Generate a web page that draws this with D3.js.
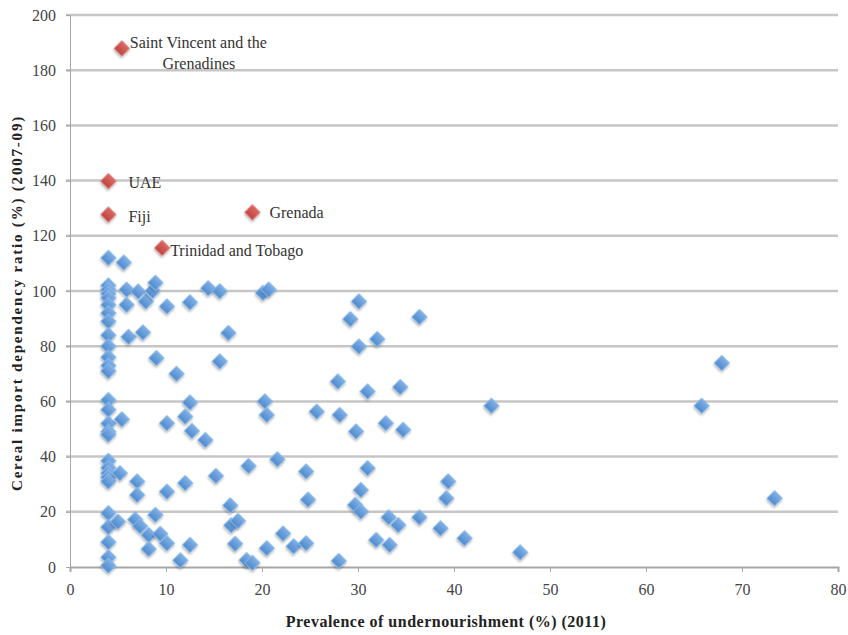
<!DOCTYPE html>
<html>
<head>
<meta charset="utf-8">
<script src="https://cdn.jsdelivr.net/npm/d3@7"></script>
<style>
	body { margin: 0; background: #fff; }
	svg { display: block; }
	text { font-family: "Liberation Serif", "Times New Roman", "DejaVu Serif", serif; }
</style>
</head>
<body>
<svg id="chart" width="848" height="635"></svg>
<script>

// prevalence of undernourishment (%) vs cereal import dependency ratio (%)
var blueX = [4,4,4,4,4,4,4,4,4,4,4,4,4,4,4,4,4,4,4,4,4,4,4,4,4,4,4,4,
	5.6,5.9,5.9,6.1,7.6,7.1,7.9,8.6,8.9,10.1,12.5,14.4,15.6,20.1,20.7,16.5,9.0,11.1,15.6,27.9,
	12.5,10.1,5.4,12.0,12.7,14.1,20.3,20.5,25.7,28.1,29.8,32.9,34.7,30.1,29.2,36.4,30.1,32.0,
	31.0,34.4,43.9,65.8,67.9,5.2,7.0,7.0,10.1,12.0,15.2,18.6,21.6,24.6,24.8,16.7,31.0,30.3,
	29.7,30.3,33.2,34.2,36.4,39.4,39.2,38.6,41.1,46.9,73.4,31.9,33.3,28.0,5.0,6.8,7.3,8.2,
	8.9,9.4,10.1,8.2,12.5,11.5,16.8,17.5,17.2,18.4,19.0,20.5,22.2,23.3,24.6]
var blueY = [112,102,100.5,99,97.5,95,92,89,84,80,76,73,71,60.5,57,52,49,48,38.5,36,34,32.5,31,19.5,14.5,9,3.5,0.5,
	110.3,100.5,95,83.4,85,99.8,96.2,100,103,94.4,95.9,101,99.9,99.3,100.5,84.8,75.7,70,74.5,67.2,
	59.6,52.1,53.5,54.5,49.3,46,60,55.1,56.3,55.1,49.1,52.1,49.7,96.2,89.8,90.6,79.9,82.6,
	63.6,65.2,58.4,58.4,73.9,34,31,26.1,27.3,30.4,33,36.6,39,34.6,24.4,22.3,35.8,27.9,
	22.5,20.1,18,15.2,18,31,24.9,14,10.4,5.3,24.9,9.8,8,2.2,16.4,17.2,14.8,11.6,
	18.9,12,8.6,6.5,8,2.4,15.1,16.7,8.4,2.5,1.5,6.8,12.1,7.5,8.6]

var redNames = ['Saint Vincent and the|Grenadines', 'UAE', 'Fiji', 'Grenada', 'Trinidad and Tobago']
var redX = [5.4, 4.0, 4.0, 19.0, 9.6]
var redY = [187.9, 139.8, 127.7, 128.5, 115.6]

var xTicks = [0,10,20,30,40,50,60,70,80]
var yTicks = [0,20,40,60,80,100,120,140,160,180,200]

var xTitle = 'Prevalence of undernourishment (%) (2011)'
var yTitle = 'Cereal import dependency ratio (%) (2007-09)'

// label placement, px from the marker
var labelPlace = [
	{ dx: 8, dy: 0, line2dx: 77, line2dy: 21 },
	{ dx: 20, dy: 7 },
	{ dx: 20, dy: 7 },
	{ dx: 17, dy: 6 },
	{ dx: 8, dy: 8 }
]

var margin = { left: 70, top: 15, right: 10, bottom: 68 }
var w = 848 - margin.left - margin.right
var h = 635 - margin.top - margin.bottom

var x = d3.scaleLinear().domain([0, 80]).range([0, w])
var y = d3.scaleLinear().domain([0, 200]).range([h, 0])

var svg = d3.select('#chart')

var defs = svg.append('defs')

var shadow = defs.append('filter')
	.attr('id', 'shadow')
	.attr('x', '-50%').attr('y', '-50%')
	.attr('width', '200%').attr('height', '200%')
shadow.append('feDropShadow')
	.attr('dx', 1)
	.attr('dy', 1.5)
	.attr('stdDeviation', 1.2)
	.attr('flood-color', '#000')
	.attr('flood-opacity', 0.3)

function grad(id, c1, c2) {
	var g = defs.append('linearGradient')
		.attr('id', id)
		.attr('x1', 0).attr('y1', 0)
		.attr('x2', 0).attr('y2', 1)
	g.append('stop').attr('offset', '0%').attr('stop-color', c1)
	g.append('stop').attr('offset', '100%').attr('stop-color', c2)
}
grad('blueGrad', '#80b1e7', '#4f8acd')
grad('redGrad', '#dc6a64', '#bd4541')

var g = svg.append('g')
	.attr('transform', 'translate(' + margin.left + ',' + margin.top + ')')

// horizontal gridlines
g.selectAll('.grid')
	.data(yTicks.filter(d => d > 0))
	.enter().append('line')
	.attr('class', 'grid')
	.attr('x1', -4)
	.attr('x2', w)
	.attr('y1', d => y(d))
	.attr('y2', d => y(d))
	.style('stroke', '#c6c6c6')
	.style('stroke-width', 2.5)

var yAxis = g.append('g')
	.call(d3.axisLeft(y).tickValues(yTicks).tickSize(4).tickPadding(10).tickFormat(d3.format('d')))
var xAxis = g.append('g')
	.attr('transform', 'translate(0,' + h + ')')
	.call(d3.axisBottom(x).tickValues(xTicks).tickSize(5).tickPadding(12).tickFormat(d3.format('d')))

yAxis.select('.domain').style('stroke', '#a6a6a6')
xAxis.select('.domain').style('stroke', '#a6a6a6').style('stroke-width', 2)
g.selectAll('.tick line').style('stroke', '#a6a6a6')
g.selectAll('.tick text')
	.attr('font-family', null)
	.style('font-family', '"Liberation Serif", "Times New Roman", "DejaVu Serif", serif')
	.style('font-size', '16px')
	.style('fill', '#444')

svg.append('text')
	.attr('x', margin.left + w / 2 - 8)
	.attr('y', 627)
	.style('text-anchor', 'middle')
	.style('font-weight', 'bold')
	.style('font-size', '16px')
	.style('letter-spacing', '0.5px')
	.style('fill', '#222')
	.text(xTitle)

svg.append('text')
	.attr('transform', 'translate(22,' + (margin.top + h / 2 + 12) + ') rotate(-90)')
	.style('text-anchor', 'middle')
	.style('font-weight', 'bold')
	.style('font-size', '15px')
	.style('letter-spacing', '1.8px')
	.style('fill', '#222')
	.text(yTitle)

var diamond = d3.symbol().type(d3.symbolSquare).size(118)

var blue = blueX.map((d, i) => ({ x: d, y: blueY[i] }))
var red = redX.map((d, i) => ({ x: d, y: redY[i], name: redNames[i], place: labelPlace[i] }))

g.selectAll('.blue')
	.data(blue)
	.enter().append('path')
	.attr('class', 'blue')
	.attr('d', diamond)
	.attr('transform', d => 'translate(' + x(d.x) + ',' + y(d.y) + ') rotate(45)')
	.style('fill', 'url(#blueGrad)')
	.style('stroke', '#8bbbea')
	.style('stroke-width', 0.8)
	.attr('filter', 'url(#shadow)')

g.selectAll('.red')
	.data(red)
	.enter().append('path')
	.attr('class', 'red')
	.attr('d', diamond)
	.attr('transform', d => 'translate(' + x(d.x) + ',' + y(d.y) + ') rotate(45)')
	.style('fill', 'url(#redGrad)')
	.style('stroke', '#e07f79')
	.style('stroke-width', 0.8)
	.attr('filter', 'url(#shadow)')

var labels = g.selectAll('.lab')
	.data(red)
	.enter().append('text')
	.attr('class', 'lab')
	.attr('x', d => x(d.x) + d.place.dx)
	.attr('y', d => y(d.y) + d.place.dy)
	.style('font-size', '16px')
	.style('fill', '#333')

labels.append('tspan')
	.text(d => d.name.split('|')[0])
labels.filter(d => d.name.indexOf('|') > -1)
	.append('tspan')
	.attr('x', d => x(d.x) + d.place.line2dx)
	.attr('dy', d => d.place.line2dy)
	.style('text-anchor', 'middle')
	.text(d => d.name.split('|')[1])

</script>
</body>
</html>
